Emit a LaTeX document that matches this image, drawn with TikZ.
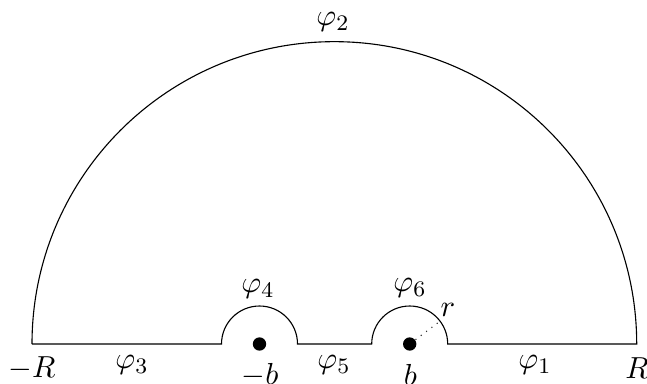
\documentclass[tikz,border=0pt]{standalone}
\usetikzlibrary{calc}
\begin{document}
\begin{tikzpicture}[x=0.36pt,y=0.36pt,
  dot/.style={circle,fill=black,inner sep=0pt,minimum size=4.8pt},
  lbl/.style={inner sep=0pt,font=\fontsize{11.2}{13}\selectfont}]
\useasboundingbox (0,0) rectangle (647,383);
% key points on the real axis
\coordinate (mR) at (32,39);
\coordinate (pR) at (636.7,39);
\coordinate (a1) at (221.5,39);
\coordinate (a2) at (297.5,39);
\coordinate (c1) at (371.7,39);
\coordinate (c2) at (447.7,39);
% poles
\node[dot] (mb) at (259.5,39) {};
\node[dot] (b) at (409.7,39) {};
% contour
\draw (mR) -- (a1) arc[start angle=180,end angle=0,radius=38]
      -- (c1) arc[start angle=180,end angle=0,radius=38]
      -- (pR) arc[start angle=0,end angle=180,radius=302.35];
% radius
\coordinate (rend) at ($(b)+(37:38)$);
\draw[dotted,black!80] (b) -- (rend);
% labels
\node[lbl] (l2) at (333,361) {$\varphi_2$};
\node[lbl] (l4) at (258,94) {$\varphi_4$};
\node[lbl] (l6) at (410,95) {$\varphi_6$};
\node[lbl] (l3) at (132,18) {$\varphi_3$};
\node[lbl] (l5) at (334,18) {$\varphi_5$};
\node[lbl] (l1) at (535,18) {$\varphi_1$};
\node[lbl] (lmR) at (32,15) {$-R$};
\node[lbl] (lpR) at (637,15) {$R$};
\node[lbl] (lmb) at (260,8) {$-b$};
\node[lbl] (lb) at (410.5,8) {$b$};
\node[lbl] (lr) at (448,73) {$r$};
\end{tikzpicture}
\end{document}
